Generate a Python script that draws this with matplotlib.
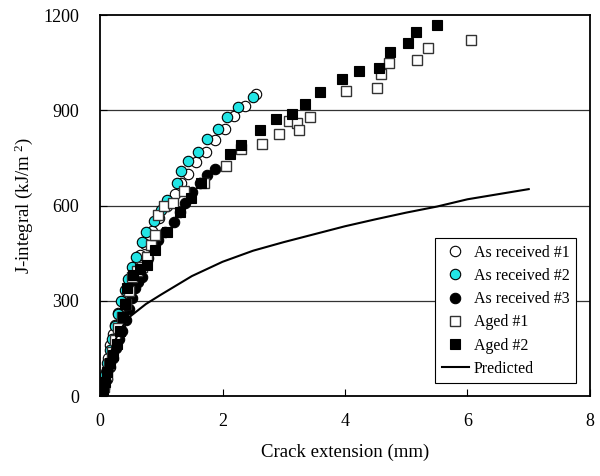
import numpy as np
import matplotlib
matplotlib.use("Agg")
import matplotlib.pyplot as plt

plt.rcParams['font.family'] = ['Liberation Serif', 'DejaVu Serif']
plt.rcParams['mathtext.fontset'] = 'custom'
plt.rcParams['mathtext.rm'] = 'Liberation Serif'
plt.rcParams['mathtext.default'] = 'regular'

# As received #1 (open circles)
x_ar1 = [0.02, 0.05, 0.09, 0.13, 0.17, 0.21, 0.25, 0.30, 0.36, 0.42, 0.49, 0.57, 0.65, 0.74,
         0.85, 0.97, 1.10, 1.23, 1.33, 1.43, 1.56, 1.73, 1.87, 2.04, 2.18, 2.37, 2.55]
j_ar1 = [8, 35, 75, 120, 160, 195, 225, 262, 300, 335, 372, 410, 445, 480,
         520, 560, 600, 638, 670, 701, 738, 770, 806, 843, 883, 914, 952]

# As received #2 (cyan circles)
x_ar2 = [0.02, 0.05, 0.08, 0.12, 0.16, 0.20, 0.25, 0.30, 0.35, 0.40, 0.45, 0.52, 0.59, 0.68,
         0.75, 0.88, 1.00, 1.10, 1.25, 1.33, 1.44, 1.60, 1.75, 1.93, 2.07, 2.26, 2.49]
j_ar2 = [5, 30, 65, 105, 145, 180, 220, 260, 300, 335, 370, 407, 439, 486,
         518, 552, 586, 617, 670, 709, 740, 770, 810, 843, 880, 911, 941]

# As received #3 (black circles)
x_ar3 = [0.03, 0.07, 0.11, 0.16, 0.21, 0.26, 0.31, 0.36, 0.42, 0.47, 0.52, 0.57, 0.62, 0.68,
         0.79, 0.86, 0.95, 1.06, 1.20, 1.31, 1.39, 1.50, 1.63, 1.74, 1.88]
j_ar3 = [5, 25, 55, 90, 120, 150, 180, 205, 240, 275, 308, 339, 360, 376,
         434, 465, 491, 518, 549, 580, 609, 644, 670, 696, 717]

# Aged #1 (open squares)
x_ag1 = [0.03, 0.07, 0.11, 0.15, 0.20, 0.25, 0.30, 0.36, 0.42, 0.47, 0.52, 0.60, 0.68, 0.76,
         0.83, 0.90, 0.95, 1.05, 1.19, 1.37, 1.69, 2.06, 2.30, 2.64, 2.93, 3.09, 3.21, 3.25,
         3.43, 4.02, 4.52, 4.58, 4.72, 5.18, 5.36, 6.05]
j_ag1 = [5, 30, 65, 100, 140, 175, 215, 250, 290, 330, 376, 395, 407, 439,
         475, 507, 570, 600, 609, 646, 670, 724, 780, 794, 827, 867, 859, 838,
         880, 961, 971, 1014, 1048, 1060, 1098, 1123]

# Aged #2 (black squares)
x_ag2 = [0.02, 0.05, 0.08, 0.12, 0.17, 0.22, 0.28, 0.33, 0.38, 0.41, 0.44, 0.54, 0.65, 0.76,
         0.90, 1.09, 1.31, 1.48, 1.65, 2.13, 2.31, 2.61, 2.88, 3.14, 3.34, 3.59, 3.95, 4.23,
         4.56, 4.73, 5.03, 5.16, 5.51]
j_ag2 = [5, 20, 45, 75, 105, 130, 165, 205, 250, 290, 339, 381, 400, 413,
         460, 518, 580, 625, 670, 764, 791, 838, 874, 888, 920, 958, 998, 1024,
         1035, 1085, 1113, 1148, 1169]

# Predicted
x_pred = [0.0, 0.1, 0.2, 0.3, 0.4, 0.5, 0.75, 1.0, 1.5, 2.0, 2.5, 3.0, 3.5, 4.0,
          4.5, 5.0, 5.5, 6.0, 6.5, 7.0]
j_pred = [0, 90, 150, 200, 228, 252, 290, 320, 378, 423, 458, 485, 510, 535,
          557, 578, 597, 620, 636, 652]

fig = plt.figure(figsize=(6, 4.76), dpi=100)
ax = fig.add_axes([0.1667, 0.168, 0.8166, 0.800])

ms = 7.5
ax.plot(x_ar1, j_ar1, 'o', ms=ms, mfc='white', mec='black', mew=0.8, label='As received #1')
ax.plot(x_ar2, j_ar2, 'o', ms=ms, mfc='#22E5E5', mec='black', mew=0.8, label='As received #2')
ax.plot(x_ar3, j_ar3, 'o', ms=ms, mfc='black', mec='black', mew=0.8, label='As received #3')
ax.plot(x_ag1, j_ag1, 's', ms=ms - 0.5, mfc='white', mec='#333333', mew=1.0, label='Aged #1')
ax.plot(x_ag2, j_ag2, 's', ms=ms - 0.5, mfc='black', mec='black', mew=0.8, label='Aged #2')
ax.plot(x_pred, j_pred, '-', color='black', lw=1.5, label='Predicted')

ax.set_xlim(0, 8)
ax.set_ylim(0, 1200)
ax.set_xticks([0, 2, 4, 6, 8])
ax.set_yticks([0, 300, 600, 900, 1200])
for yv in [300, 600, 900]:
    ax.axhline(yv, color='0.2', lw=0.9, zorder=0)

ax.tick_params(direction='in', length=5, width=0.8, labelsize=13)
ax.tick_params(axis='x', pad=12)
ax.tick_params(axis='y', pad=15)
for s in ax.spines.values():
    s.set_linewidth(1.3)

ax.set_xlabel('Crack extension (mm)', fontsize=13.5, labelpad=10)
ax.set_ylabel('J-integral (kJ/m$^{\\ 2}$)', fontsize=13.5, labelpad=6)

leg = ax.legend(loc='lower right', bbox_to_anchor=(0.971, 0.034), fontsize=11.5,
                frameon=True, fancybox=False, edgecolor='black', framealpha=1,
                labelspacing=0.45, handlelength=1.7, handletextpad=0.3,
                borderpad=0.4, borderaxespad=0)
leg.get_frame().set_linewidth(0.8)

fig.savefig('out.png', dpi=100)
